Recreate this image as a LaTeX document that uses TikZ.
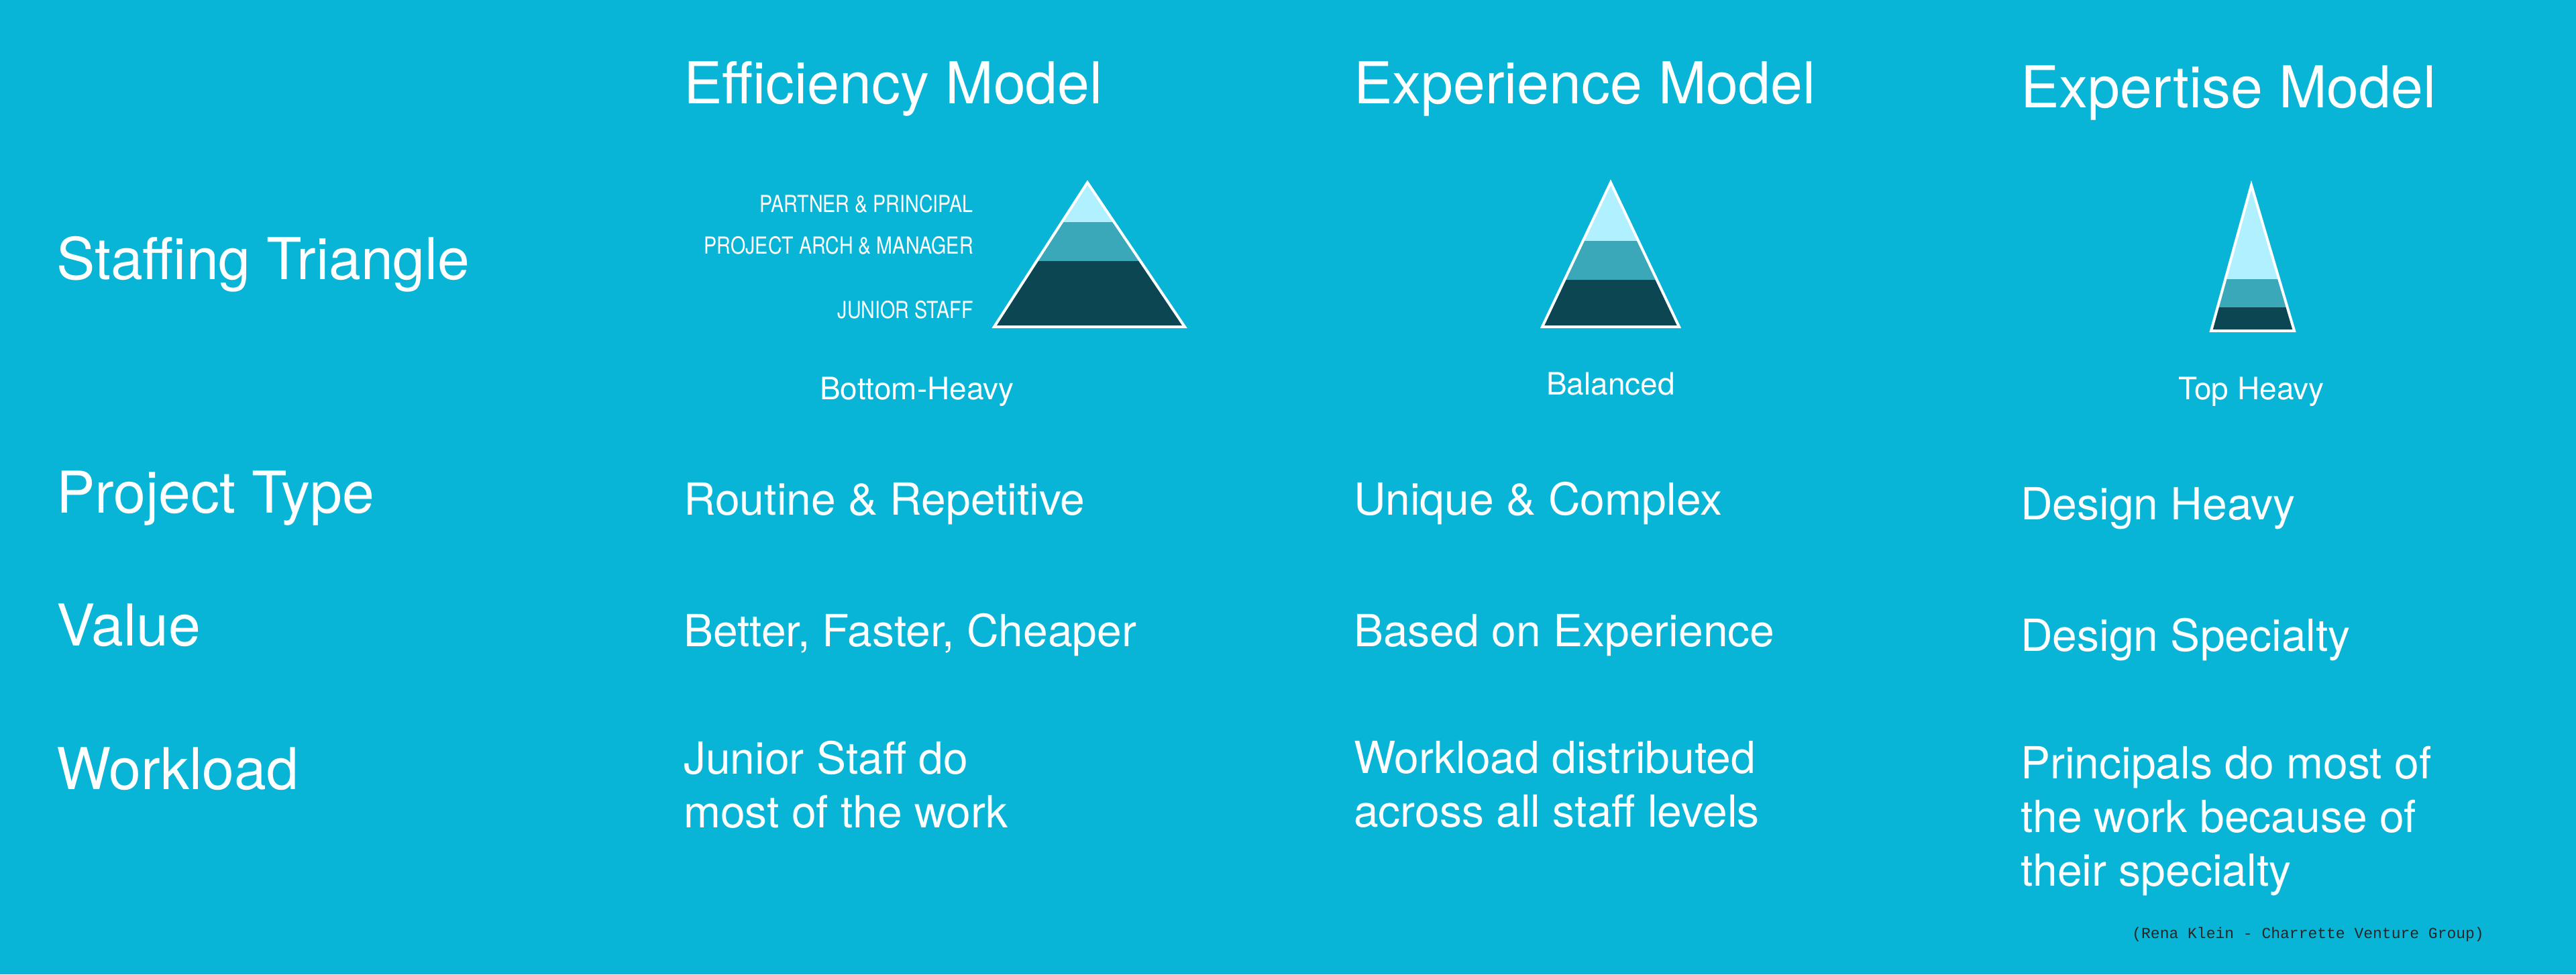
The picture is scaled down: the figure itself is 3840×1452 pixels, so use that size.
\documentclass[tikz,border=0pt]{standalone}
\usepackage{fontspec}
\setmainfont{TeX Gyre Heros}
\setmonofont{Liberation Mono}
\definecolor{bg}{HTML}{08B5D6}
\definecolor{lt}{HTML}{B0F0FF}
\definecolor{md}{HTML}{3BA8BA}
\definecolor{dk}{HTML}{0B4652}
\tikzset{
 head/.style={anchor=base west,text=white,font=\fontsize{86}{100}\selectfont,inner sep=0},
 rowl/.style={anchor=base west,text=white,font=\fontsize{86}{100}\selectfont,inner sep=0},
 body/.style={anchor=base west,text=white,font=\fontsize{66}{80}\selectfont,inner sep=0,align=left},
 tricap/.style={anchor=base,text=white,font=\fontsize{46}{50}\selectfont,inner sep=0},
 lvl/.style={anchor=base east,text=white,font=\fontsize{35}{40}\selectfont,inner sep=0},
}
\newcommand{\tri}[8]{% apex x, apex y, base left x, base right x, base y, y1, y2, name
 \begin{scope}
 \clip (#1,#2) -- (#4,#5) -- (#3,#5) -- cycle;
 \fill[lt] (#3,#2) rectangle (#4,#6);
 \fill[md] (#3,#6) rectangle (#4,#7);
 \fill[dk] (#3,#7) rectangle (#4,#5);
 \end{scope}
 \draw[white,line width=4pt,line join=miter] (#1,#2) coordinate (#8) -- (#4,#5) -- (#3,#5) -- cycle;
}
\begin{document}
\begin{tikzpicture}[x=1pt,y=-1pt]
\fill[bg] (0,0) rectangle (3840,1452);
\useasboundingbox (0,0) rectangle (3840,1452);
\node[head] (h1) at (1019,154) {Efficiency Model};
\node[head] (h2) at (2018,154) {Experience Model};
\node[head] (h3) at (3012,160) {Expertise Model};
\node[rowl] (r1) at (84,416) {Staffing Triangle};
\node[rowl] (r2) at (84,764) {Project Type};
\node[rowl] (r3) at (84,962) {Value};
\node[rowl] (r4) at (84,1176) {Workload};
\tri{1621}{272}{1482}{1766}{487}{331}{389}{t1}
\tri{2401}{272}{2299}{2503}{487}{359}{417}{t2}
\tri{3356}{276}{3296}{3420}{493}{416}{458}{t3}
\node[lvl] (l1) at (1451,316) {\scalebox{0.82}[1]{PARTNER \& PRINCIPAL}};
\node[lvl] (l2) at (1451,378) {\scalebox{0.82}[1]{PROJECT ARCH \& MANAGER}};
\node[lvl] (l3) at (1451,474) {\scalebox{0.82}[1]{JUNIOR STAFF}};
\node[tricap] (c1) at (1367,595) {Bottom-Heavy};
\node[tricap] (c2) at (2401,588) {Balanced};
\node[tricap] (c3) at (3356,595) {Top Heavy};
\node[body] (p1) at (1019,767) {Routine \& Repetitive};
\node[body] (p2) at (2018,767) {Unique \& Complex};
\node[body] (p3) at (3012,774) {Design Heavy};
\node[body] (v1) at (1019,963) {Better, Faster, Cheaper};
\node[body] (v2) at (2018,963) {Based on Experience};
\node[body] (v3) at (3012,970) {Design Specialty};
\node[body,anchor=north west] (w1) at (1019,1104) {Junior Staff do\\most of the work};
\node[body,anchor=north west] (w2) at (2018,1104) {Workload distributed\\across all staff levels};
\node[body,anchor=north west] (w3) at (3012,1112) {Principals do most of\\the work because of\\their specialty};
\node[anchor=base east,inner sep=0,text=black!85,font=\ttfamily\fontsize{23}{26}\selectfont] (cite) at (3703,1398) {(Rena Klein - Charrette Venture Group)};
\end{tikzpicture}
\end{document}
